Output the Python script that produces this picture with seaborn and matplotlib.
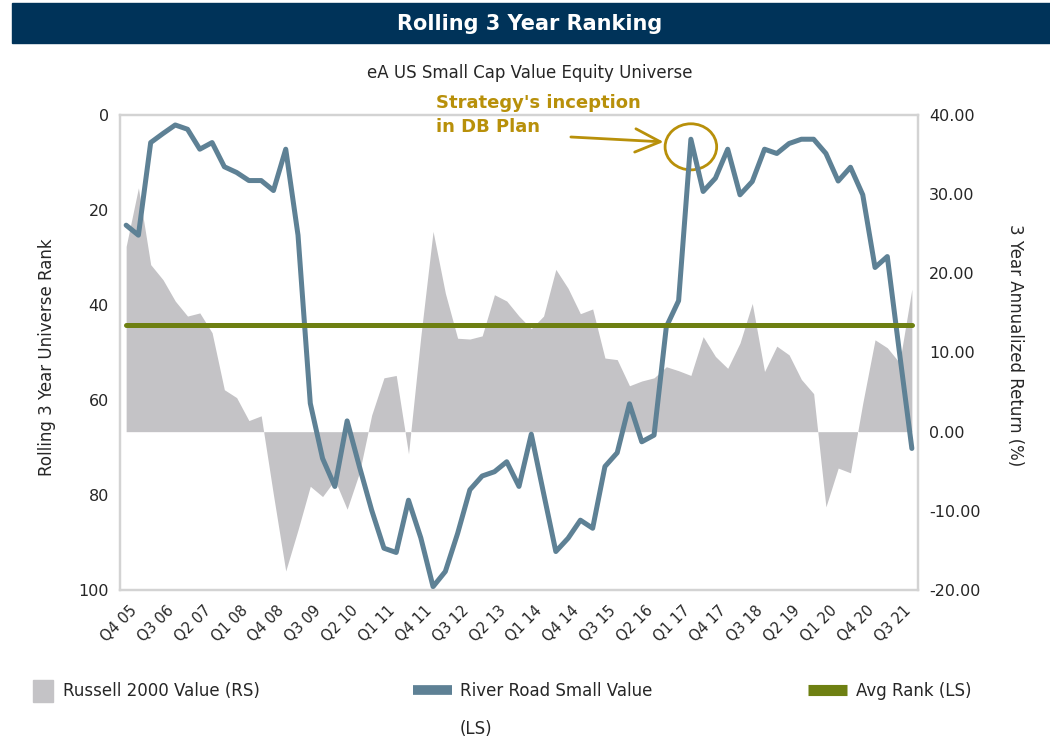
import matplotlib
matplotlib.use("Agg")
import numpy as np
import pandas as pd
import seaborn as sns
import matplotlib.pyplot as plt
from matplotlib.patches import Ellipse, Rectangle, Patch
from matplotlib.lines import Line2D

# quarterly data, Q4 05 .. Q4 21
rank = [23.2, 25.3, 5.8, 3.9, 2.1, 3.0, 7.2, 5.8, 10.9, 12.1, 13.8, 13.8, 15.9, 7.2, 25.3,
        60.7, 72.3, 78.2, 64.4, 74.0, 83.2, 91.2, 92.1, 81.1, 89.0,
        99.3, 96.1, 88.1, 78.9, 76.0, 75.1, 73.0, 78.2, 67.2, 79.6, 91.9, 89.1, 85.3, 87.0,
        74.0, 71.1, 60.8, 68.8, 67.4, 44.6, 39.1,
        5.1, 16.1, 13.3, 7.2, 16.8, 14.0, 7.2, 8.1, 6.0, 5.1, 5.1, 8.1, 13.9, 11.0, 16.8,
        32.1, 29.8, 50.2, 70.2]
returns = [23.4, 30.8, 21.1, 19.2, 16.5, 14.6, 15.0, 12.5, 5.3, 4.3, 1.4, 2.0, -8.0, -17.6, -12.4,
           -6.9, -8.2, -6.1, -9.8, -5.2, 2.1, 6.8, 7.1, -2.8, 12.0,
           25.3, 17.5, 11.8, 11.7, 12.1, 17.3, 16.5, 14.6, 13.0, 14.6, 20.5, 18.1, 14.9, 15.5,
           9.3, 9.1, 5.8, 6.4, 6.8, 8.2, 7.7,
           7.1, 12.0, 9.5, 8.0, 11.2, 16.2, 7.6, 10.8, 9.7, 6.6, 4.8, -9.5, -4.6, -5.2, 3.6,
           11.6, 10.6, 8.7, 18.0]
avg_rank = 44.2
tick_labels = ["Q4 05", "Q3 06", "Q2 07", "Q1 08", "Q4 08", "Q3 09", "Q2 10", "Q1 11",
               "Q4 11", "Q3 12", "Q2 13", "Q1 14", "Q4 14", "Q3 15", "Q2 16", "Q1 17",
               "Q4 17", "Q3 18", "Q2 19", "Q1 20", "Q4 20", "Q3 21"]
inception_idx = 46

gray = "#C4C3C6"
blue = "#5E8195"
green = "#6E8012"
gold = "#B8900A"
navy = "#003359"
txt = "#262626"

df = pd.DataFrame({"q": np.arange(len(rank)), "rank": rank, "ret": returns})
df["avg"] = avg_rank

sns.set_theme(style="white")
plt.rcParams["font.family"] = ["DejaVu Sans"]

fig = plt.figure(figsize=(10.5, 7.4), dpi=100)
ax = fig.add_axes([120 / 1050, 1 - 590 / 740, 798 / 1050, 475 / 740])
ax2 = ax.twinx()

# area on the right axis, behind the lines
ax2.fill_between(df["q"], df["ret"], 0, color=gray, linewidth=0)
sns.lineplot(data=df, x="q", y="rank", ax=ax, color=blue, linewidth=3.6)
sns.lineplot(data=df, x="q", y="avg", ax=ax, color=green, linewidth=3.6)
ax.set_zorder(ax2.get_zorder() + 1)
ax.patch.set_visible(False)

ax.set_xlim(-0.5, len(rank) - 0.5)
ax.set_ylim(100, 0)
ax2.set_ylim(-20, 40)
# ticks are invisible; nudge them so the rotated labels sit like the original
ax.set_xticks(np.arange(0, len(rank), 3) + 0.7)
ax.set_xticklabels(tick_labels, rotation=45, ha="right", va="center",
                   rotation_mode="anchor", fontsize=10.5, color=txt)
ax.set_yticks(range(0, 101, 20))
ax.set_yticklabels([str(v) for v in range(0, 101, 20)], fontsize=11.5, color=txt)
ax2.set_yticks(range(-20, 41, 10))
ax2.set_yticklabels([f"{v:.2f}" for v in range(-20, 41, 10)], fontsize=11.5, color=txt)
ax.tick_params(axis="y", length=0, pad=8)
ax.tick_params(axis="x", length=0, pad=13)
ax2.tick_params(length=0, pad=8)
ax.set_xlabel("")
ax.set_ylabel("")
for a in (ax, ax2):
    for s in a.spines.values():
        s.set_color("#D3D3D3")
        s.set_linewidth(1.6)
ax.grid(False)
ax2.grid(False)

# annotation for inception
peak = rank[inception_idx]
ax.add_patch(Ellipse((inception_idx, peak + 1.6), 4.2, 9.7, fill=False,
                     edgecolor=gold, linewidth=2, clip_on=False))
ax.annotate("", xy=(inception_idx - 2.0, peak + 0.6), xytext=(inception_idx - 10, peak - 0.5),
            arrowprops=dict(arrowstyle="->,head_length=1.5,head_width=0.7",
                            color=gold, linewidth=2), annotation_clip=False)
ax.text(inception_idx - 20.8, peak - 9.5, "Strategy's inception\nin DB Plan", color=gold,
        fontsize=13, fontweight="bold", ha="left", va="top", linespacing=1.45, clip_on=False)

# title bar and texts
fig.patches.append(Rectangle((12 / 1050, 1 - 43 / 740), 1 - 12 / 1050, 40 / 740,
                             transform=fig.transFigure, color=navy, zorder=0))
fig.text(530 / 1050, 1 - 24 / 740, "Rolling 3 Year Ranking", color="white",
         fontsize=15, fontweight="bold", ha="center", va="center")
fig.text(530 / 1050, 1 - 73 / 740, "eA US Small Cap Value Equity Universe", color=txt,
         fontsize=12, ha="center", va="center")
fig.text(47 / 1050, 1 - 357 / 740, "Rolling 3 Year Universe Rank", color=txt,
         fontsize=12, rotation=90, ha="center", va="center")
fig.text(1015 / 1050, 1 - 345 / 740, "3 Year Annualized Return (%)", color=txt,
         fontsize=12, rotation=270, ha="center", va="center")

# legend
common = dict(frameon=False, fontsize=12, loc="center left",
              labelcolor=txt, borderaxespad=0, borderpad=0)
fig.legend(handles=[Patch(color=gray)], labels=["Russell 2000 Value (RS)"],
           bbox_to_anchor=(33 / 1050, 1 - 691 / 740), handlelength=1.2, handleheight=1.6,
           handletextpad=0.6, **common)
fig.legend(handles=[Line2D([], [], color=blue, linewidth=7, solid_capstyle="butt")],
           labels=["River Road Small Value"], handletextpad=0.45,
           bbox_to_anchor=(413 / 1050, 1 - 691 / 740), handlelength=2.35, **common)
fig.text(460 / 1050, 1 - 729 / 740, "(LS)", color=txt, fontsize=12, ha="left", va="center")
fig.legend(handles=[Line2D([], [], color=green, linewidth=8, solid_capstyle="butt")],
           labels=["Avg Rank (LS)"], handletextpad=0.55,
           bbox_to_anchor=(808 / 1050, 1 - 691 / 740), handlelength=2.35, **common)

fig.savefig("out.png", dpi=100)
